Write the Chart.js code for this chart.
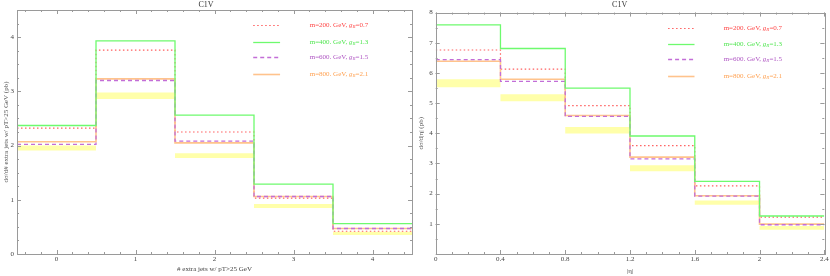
<!DOCTYPE html>
<html>
<head>
<meta charset="utf-8">
<script src="https://cdn.jsdelivr.net/npm/chart.js@4/dist/chart.umd.min.js"></script>
<style>
  html, body { margin: 0; padding: 0; background: #fff; }
  .wrap { display: flex; width: 830px; height: 276px; }
  canvas { display: block; }
</style>
</head>
<body>
<div class="wrap">
  <canvas id="jets" width="415" height="276"></canvas>
  <canvas id="eta" width="415" height="276"></canvas>
</div>
<script>
// number of extra jets, bins centred on 0..4
const jetEdges = [-0.5, 0.5, 1.5, 2.5, 3.5, 4.5];
const jet200 = [2.32, 3.76, 2.25, 1.03, 0.42];
const jet400 = [2.37, 3.93, 2.56, 1.29, 0.56];
const jet600 = [2.02, 3.20, 2.08, 1.06, 0.47];
const jet800 = [2.07, 3.23, 2.05, 1.06, 0.47];
const jetBandLo = [1.91, 2.86, 1.77, 0.85, 0.35];
const jetBandHi = [2.00, 2.98, 1.86, 0.92, 0.41];
const jetXTicks = [0, 1, 2, 3, 4];
const jetYTicks = [0, 1, 2, 3, 4];

// |eta| bins
const etaEdges = [0, 0.4, 0.8, 1.2, 1.6, 2.0, 2.4];
const eta200 = [6.76, 6.13, 4.92, 3.59, 2.26, 1.22];
const eta400 = [7.59, 6.81, 5.50, 3.91, 2.41, 1.26];
const eta600 = [6.44, 5.72, 4.56, 3.15, 1.92, 0.97];
const eta800 = [6.39, 5.79, 4.59, 3.21, 1.93, 0.99];
const etaBandLo = [5.53, 5.06, 3.99, 2.74, 1.63, 0.80];
const etaBandHi = [5.79, 5.29, 4.21, 2.94, 1.77, 0.93];
const etaXTicks = [0, 0.4, 0.8, 1.2, 1.6, 2, 2.4];
const etaYTicks = [1, 2, 3, 4, 5, 6, 7, 8];

const legendMass = ['200', '400', '600', '800'];
const legendG = ['0.7', '1.3', '1.5', '2.1'];

const lineCols = ['rgb(255,95,95)', 'rgb(110,250,110)', 'rgb(195,110,215)', 'rgb(255,195,140)'];
const textCols = ['rgb(255,70,70)', 'rgb(80,230,80)', 'rgb(175,85,195)', 'rgb(255,160,80)'];
const dashes = [[1.5, 2.5], [], [4, 3], []];
const widths = [1.2, 1.3, 1.3, 1.6];
const serif = '"Liberation Serif", "DejaVu Serif", serif';

function steps(edges, vals) {
  return edges.map((x, i) => ({ x: x, y: vals[Math.min(i, vals.length - 1)] }));
}

// frame, inward ticks on all sides, legend
const framePlugin = {
  id: 'frame',
  afterDatasetsDraw(chart, args, o) {
    const c = chart.ctx, a = chart.chartArea;
    const xs = chart.scales.x, ys = chart.scales.y;
    c.save();
    c.strokeStyle = '#9a9a9a';
    c.lineWidth = 1;
    c.strokeRect(Math.round(a.left) + 0.5, Math.round(a.top) + 0.5,
      Math.round(a.right - a.left), Math.round(a.bottom - a.top));
    c.beginPath();
    const tick = (v, len, horiz) => {
      if (horiz) {
        const p = Math.round(xs.getPixelForValue(v)) + 0.5;
        c.moveTo(p, a.bottom); c.lineTo(p, a.bottom - len);
        c.moveTo(p, a.top); c.lineTo(p, a.top + len);
      } else {
        const p = Math.round(ys.getPixelForValue(v)) + 0.5;
        c.moveTo(a.left, p); c.lineTo(a.left + len, p);
        c.moveTo(a.right, p); c.lineTo(a.right - len, p);
      }
    };
    for (let v = o.xMin; v <= xs.max + 1e-9; v += o.xMinor) {
      if (v >= xs.min - 1e-9) tick(v, 2, true);
    }
    o.xMajor.forEach(v => tick(v, 4, true));
    for (let v = o.yMin; v <= ys.max + 1e-9; v += o.yMinor) tick(v, 2, false);
    o.yMajor.forEach(v => tick(v, 4, false));
    c.stroke();
    c.restore();
  },
  afterDraw(chart) {
    const c = chart.ctx, a = chart.chartArea;
    const w = a.right - a.left, h = a.bottom - a.top;
    const rows = [0.062, 0.131, 0.194, 0.264];
    c.save();
    for (let i = 0; i < 4; i++) {
      const y = Math.round(a.top + rows[i] * h) + 0.5;
      c.strokeStyle = lineCols[i];
      c.lineWidth = widths[i];
      c.setLineDash(dashes[i]);
      c.beginPath();
      c.moveTo(a.left + 0.598 * w, y);
      c.lineTo(a.left + 0.666 * w, y);
      c.stroke();
      c.setLineDash([]);
      let x = a.left + 0.741 * w;
      c.fillStyle = textCols[i];
      c.textBaseline = 'middle';
      c.font = '7px ' + serif;
      let t = 'm=' + legendMass[i] + '. GeV, ';
      c.fillText(t, x, y); x += c.measureText(t).width;
      c.font = 'italic 7px ' + serif;
      c.fillText('g', x, y); x += c.measureText('g').width;
      c.font = 'italic 5px ' + serif;
      c.fillText('R', x, y + 1.5); x += c.measureText('R').width;
      c.font = '7px ' + serif;
      c.fillText('=' + legendG[i], x, y);
    }
    c.restore();
  }
};

function makeChart(id, edges, series, lo, hi, cfg) {
  const datasets = [
    { data: steps(edges, lo), borderWidth: 0, fill: false, order: 10 },
    { data: steps(edges, hi), borderWidth: 0, fill: 0, backgroundColor: 'rgb(255,255,170)', order: 9 }
  ];
  // green on top, then purple, orange, red dotted underneath
  const order = [4, 1, 2, 3];
  series.forEach((s, i) => {
    datasets.push({
      data: steps(edges, s),
      borderColor: lineCols[i],
      borderWidth: widths[i],
      borderDash: dashes[i],
      fill: false,
      order: order[i]
    });
  });
  // horizontal first, then the jump to the next bin
  datasets.forEach(d => { d.stepped = 'before'; d.pointRadius = 0; });

  return new Chart(document.getElementById(id), {
    type: 'line',
    data: { datasets: datasets },
    plugins: [framePlugin],
    options: {
      responsive: false,
      animation: false,
      events: [],
      layout: { padding: { left: 0, right: cfg.padRight, top: 0, bottom: 0 } },
      plugins: {
        legend: { display: false },
        tooltip: { enabled: false },
        title: {
          display: true, text: 'C1V', color: '#333',
          font: { family: serif, size: 8, weight: 'normal' },
          padding: { top: 0, bottom: cfg.titleGap }
        },
        frame: cfg.frame
      },
      scales: {
        x: {
          type: 'linear', min: edges[0], max: edges[edges.length - 1],
          grid: { display: false, drawTicks: false },
          border: { display: false },
          afterBuildTicks: s => { s.ticks = cfg.xTicks.map(v => ({ value: v })); },
          afterFit: s => { s.height = 22; },
          ticks: {
            color: '#444', padding: 1, maxRotation: 0, autoSkip: false,
            font: { family: serif, size: 7 },
            callback: v => String(v)
          },
          title: {
            display: true, text: cfg.xTitle, color: '#444',
            font: { family: serif, size: 7 },
            padding: { top: 0, bottom: cfg.xTitleGap }
          }
        },
        y: {
          type: 'linear', min: 0, max: cfg.yMax,
          grid: { display: false, drawTicks: false },
          border: { display: false },
          afterBuildTicks: s => { s.ticks = cfg.yTicks.map(v => ({ value: v })); },
          afterFit: s => { s.width = cfg.yWidth; },
          ticks: {
            color: '#444', padding: 3,
            font: { family: serif, size: 7 },
            callback: v => String(v)
          },
          title: {
            display: true, text: cfg.yTitle, color: '#555',
            font: { family: serif, size: 7 },
            padding: { top: 2, bottom: 0 }
          }
        }
      }
    }
  });
}

makeChart('jets', jetEdges, [jet200, jet400, jet600, jet800], jetBandLo, jetBandHi, {
  padRight: 3, titleGap: 0.4, yMax: 4.5, yWidth: 17,
  xTicks: jetXTicks, yTicks: jetYTicks, xTitleGap: 3,
  xTitle: '# extra jets w/ pT>25 GeV',
  yTitle: 'dσ/d# extra jets w/ pT>25 GeV (pb)',
  frame: { xMin: -0.4, xMinor: 0.2, xMajor: jetXTicks, yMin: 0, yMinor: 0.25, yMajor: jetYTicks }
});

makeChart('eta', etaEdges, [eta200, eta400, eta600, eta800], etaBandLo, etaBandHi, {
  padRight: 5.7, titleGap: 3, yMax: 8, yWidth: 20.7,
  xTicks: etaXTicks, yTicks: etaYTicks, xTitleGap: 1,
  xTitle: '|η|',
  yTitle: 'dσ/d|η| (pb)',
  frame: { xMin: 0, xMinor: 0.1, xMajor: etaXTicks, yMin: 0, yMinor: 0.5, yMajor: etaYTicks }
});
</script>
</body>
</html>
